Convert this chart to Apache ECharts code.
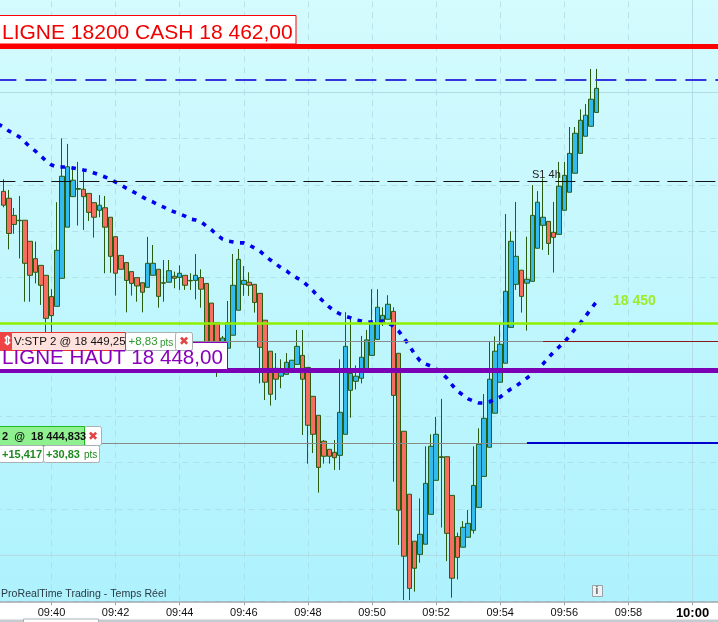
<!DOCTYPE html>
<html><head><meta charset="utf-8">
<style>html,body{margin:0;padding:0;background:#fff;overflow:hidden}#c{width:718px;height:622px}</style>
<script src="https://cdn.jsdelivr.net/npm/echarts@6/dist/echarts.min.js"></script>
</head><body><div id="c"></div>
<script>
// Prices are stored in points above this base
const priceBase = 18440;
const openPts = [15.72,15.42,14.68,14.47,14.47,13.56,12.81,12.52,12.09,11.17,10.75,11.96,14.17,15.49,15.84,15.81,15.63,15.23,14.90,15.01,14.60,13.76,12.95,12.64,12.25,11.99,11.77,11.57,12.09,12.35,11.77,11.79,12.05,12.00,12.09,11.87,11.87,11.99,11.74,10.89,10.04,8.65,8.94,9.50,10.58,11.70,11.79,11.70,11.31,10.15,8.81,8.07,7.73,7.81,7.93,8.24,8.63,8.11,6.86,6.04,4.92,4.57,4.44,4.31,5.22,7.12,7.51,7.64,8.00,8.63,9.32,10.02,10.19,10.53,8.72,5.35,2.63,0.60,0.03,0.47,1.76,3.23,4.25,4.25,2.58,0.80,0.34,0.77,1.07,2.06,3.40,4.66,6.13,7.47,8.29,9.84,11.70,12.31,11.75,11.83,13.26,14.25,14.42,13.95,13.86,14.90,15.68,16.50,17.36,18.10,18.53,19.13];
const closePts = [15.12,13.90,14.29,14.45,12.61,12.09,12.22,11.66,10.23,10.35,13.17,16.37,16.78,16.20,15.81,15.49,14.81,14.60,15.12,14.17,12.91,12.18,12.35,11.87,11.74,11.63,11.36,12.61,12.61,11.18,11.75,12.29,11.96,12.18,11.66,11.85,12.09,11.49,9.08,9.00,8.65,9.38,10.04,11.66,12.78,11.87,11.66,10.92,8.98,7.47,6.95,7.60,7.93,8.33,8.42,9.02,7.60,5.61,5.22,3.79,4.27,4.27,4.21,6.17,9.02,7.85,7.73,8.55,9.30,10.02,10.71,10.36,10.84,6.90,1.94,-0.05,-1.44,-0.57,0.90,3.10,4.70,5.22,4.22,0.94,-1.00,-0.10,1.20,1.37,3.01,4.79,5.91,7.60,8.81,9.11,11.40,13.56,12.91,11.18,11.92,14.68,15.25,14.60,13.47,13.73,15.94,16.41,17.36,18.23,18.79,19.01,19.70,20.17];
const highPts = [16.24,15.78,15.00,15.52,14.47,13.56,13.55,12.52,12.09,11.49,15.25,18.01,17.77,16.79,16.99,16.57,15.63,15.23,15.56,15.52,14.60,13.76,12.95,12.64,12.25,11.99,11.77,13.75,13.40,12.35,12.75,12.75,12.25,12.52,12.09,12.18,13.01,12.35,11.74,10.89,10.04,9.47,10.98,13.01,13.23,12.49,12.22,11.70,11.31,10.15,8.81,8.73,8.46,8.73,8.42,9.73,9.73,8.11,6.86,6.04,4.97,4.57,4.97,8.46,10.50,10.23,8.20,9.47,9.73,11.49,11.49,10.71,11.23,10.71,8.72,5.35,2.63,0.60,2.45,4.70,5.22,5.97,6.75,4.25,2.58,0.97,1.47,1.95,4.70,5.48,6.96,9.22,9.45,10.02,14.74,13.99,15.26,12.31,13.76,15.99,15.73,16.28,14.42,15.26,16.99,16.99,18.50,18.50,19.26,19.49,21.01,21.01];
const lowPts = [15.03,13.21,13.88,12.82,10.95,10.95,11.74,10.81,9.15,9.15,10.75,11.96,14.17,15.49,14.24,14.05,14.44,13.72,14.60,12.18,12.20,11.21,12.35,10.49,11.21,10.95,10.49,11.57,12.09,10.69,10.95,11.79,11.53,11.46,11.46,11.46,11.05,10.69,8.86,8.70,7.70,8.40,8.94,9.50,10.58,11.20,11.20,10.48,7.42,6.70,6.46,6.70,7.21,7.81,7.93,8.24,5.19,3.95,4.41,2.70,3.95,3.95,3.68,3.68,5.22,5.94,7.16,7.42,8.00,8.63,9.32,9.90,10.19,3.17,0.44,-1.94,-1.94,-1.58,-0.33,0.47,1.76,3.23,1.19,-0.26,-1.84,-1.05,0.34,0.77,0.93,2.06,3.40,4.66,6.13,7.47,8.29,9.84,11.46,10.48,9.70,11.83,13.26,13.19,12.97,12.21,13.86,14.90,15.68,16.50,17.36,18.10,18.53,19.13];
const movingAvgPts = [18.63,18.50,18.33,18.20,18.07,17.85,17.64,17.46,17.25,17.03,16.86,16.77,16.77,16.77,16.73,16.69,16.64,16.60,16.51,16.43,16.34,16.25,16.12,15.99,15.86,15.74,15.61,15.48,15.35,15.26,15.13,15.04,14.91,14.83,14.74,14.65,14.52,14.48,14.40,14.22,14.05,13.83,13.66,13.57,13.53,13.49,13.49,13.40,13.27,13.14,12.93,12.75,12.58,12.41,12.28,12.10,11.97,11.85,11.63,11.41,11.15,10.94,10.72,10.55,10.42,10.33,10.25,10.16,10.12,10.07,10.07,10.07,10.12,10.03,9.90,9.68,9.38,9.04,8.69,8.39,8.26,8.17,8.04,7.87,7.65,7.35,7.09,6.92,6.75,6.66,6.57,6.57,6.62,6.75,6.83,7.01,7.18,7.31,7.48,7.65,7.83,8.04,8.26,8.52,8.78,8.99,9.21,9.47,9.77,10.03,10.33,10.64,10.94];
const tickLabels = ['09:40','09:42','09:44','09:46','09:48','09:50','09:52','09:54','09:56','09:58','10:00'];
const levelRed = 18462, levelBlueDash = 18460.53, levelS1 = 18456.15, levelGreen = 18450, levelPurple = 18448;
const levelStop = 18449.25, levelEntry = 18444.833;
const solidGrid = [18460, 18450, 18440];

// Categories: one bar every 10 seconds, starting 09:38:20
const categories = [];
for (let i = 0, t = 9*3600 + 38*60 + 20; i < 136; i++, t += 10) {
  const p = n => String(n).padStart(2,'0');
  categories.push(p(Math.floor(t/3600)) + ':' + p(Math.floor(t/60)%60) + ':' + p(t%60));
}
const isTick = v => v.endsWith(':00') && tickLabels.includes(v.slice(0,5));
const candleData = [['-','-','-','-']].concat(openPts.map((o,i) =>
  [o + priceBase, closePts[i] + priceBase, lowPts[i] + priceBase, highPts[i] + priceBase]));
const maData = movingAvgPts.map(v => +(v + priceBase).toFixed(2));

const lv = (val, color, width, dash) => ({ yAxis: val, lineStyle: { color, width, type: dash || 'solid' } });
const seg = (from, to, val, color, width) => [
  { coord: [from, val], lineStyle: { color, width, type: 'solid' } }, { coord: [to, val] }];

const F = '"Liberation Sans",Arial,sans-serif';
const rect = (x,y,w,h,fill,stroke,r) => ({ type:'rect', z:100, shape:{x,y,width:w,height:h,r:r||0}, style:{fill,stroke:stroke||null,lineWidth:1} });
const text = (x,y,t,font,fill) => ({ type:'text', z:101, x, y, style:{ text:t, font:font+' '+F, fill, verticalAlign:'middle', textVerticalAlign:'middle' } });

const graphics = [
  // top label
  rect(-1,15.5,297,28.5,'#fff','#ff0000'),
  text(2,33,'LIGNE 18200 CASH 18 462,00','21px','#f00000'),
  // LIGNE HAUT label
  rect(-1,342.5,228.5,27,'#fff','#8a00b8'),
  text(2,358,'LIGNE HAUT 18 448,00','20.6px','#8800bb'),
  // stop order tag
  rect(125.5,332.5,67,18,'#fff','#a8b0b4',2),
  rect(175.5,332.5,17,18,'#fff','#a8b0b4',2),
  rect(0.5,332.5,125,18,'#ffe2de','#ee3333'),
  rect(0,332,12,19,'#ee4444'),
  text(2,341.5,'⇕','bold 13px','#ffffff'),
  text(14,342,'V:STP 2 @ 18 449,25','11.5px','#111111'),
  text(128.5,342,'+8,83','11.5px','#2e9a2e'),
  text(160,343,'pts','10px','#2e9a2e'),
  text(179,342,'✖','12px','#e04444'),
  // position tag
  rect(84.5,426.5,17,19,'#fff','#a8b0b4',2),
  rect(-1,426.5,85.5,19,'#8ef08e','#22bb22'),
  text(2,436.5,'2  @  18 444,833','bold 11px','#111111'),
  text(88,436.5,'✖','12px','#e04444'),
  rect(-1,445.5,44.5,17,'#fff','#a8b0b4',2),
  rect(43.5,445.5,56,17,'#fff','#a8b0b4',2),
  text(2,454.5,'+15,417','bold 11px','#1f8a1f'),
  text(46,454.5,'+30,83','bold 11px','#1f8a1f'),
  text(84,455.5,'pts','10px','#1f8a1f'),
  // free labels
  text(613,301.5,'18 450','bold 14px','#9cec28'),
  text(532,174.5,'S1 4h','11px','#222222'),
  text(1,594,'ProRealTime Trading - Temps Réel','10.6px','#2a3a44'),
  rect(592.5,585.5,10,11,'#eef2f2','#9aa4a8'),
  text(595.5,591,'i','bold 10px','#556066'),
  // bottom strip
  rect(0,619.5,718,3,'#c4ccd0'),
  rect(23.5,619,75,4,'#ffffff','#a8b0b4')
];

const chart = echarts.init(document.getElementById('c'), null, { renderer: 'canvas' });
chart.setOption({
  animation: false,
  backgroundColor: '#ffffff',
  grid: {
    left: -4.6, top: -0.28, width: 726.5, height: 601.64, show: true, borderWidth: 0, outerBoundsMode: 'none',
    backgroundColor: new echarts.graphic.LinearGradient(0,0,0,1,[{offset:0,color:'#d4fbfe'},{offset:1,color:'#aef2fd'}])
  },
  xAxis: {
    type: 'category', data: categories, boundaryGap: true,
    axisLine: { lineStyle: { color: '#9aa8b0', width: 1.5 } },
    axisTick: { show: true, alignWithLabel: true, length: 4, interval: (i, v) => isTick(v), lineStyle: { color: '#9aa8b0' } },
    axisLabel: {
      show: true, interval: (i, v) => isTick(v), margin: 6, fontFamily: 'Liberation Sans', fontSize: 11, color: '#111',
      formatter: v => v.startsWith('10:00') ? '{b|' + v.slice(0,5) + '}' : v.slice(0,5),
      rich: { b: { fontFamily: 'Liberation Sans', fontSize: 13, fontWeight: 'bold', color: '#000' } }
    },
    splitLine: { show: false }
  },
  yAxis: {
    type: 'value', min: 18438, max: 18464, interval: 2, scale: true,
    axisLine: { show: false }, axisTick: { show: false }, axisLabel: { show: false },
    splitLine: { show: true, lineStyle: { color: 'rgba(170,215,225,0.7)', type: [6,5], width: 1 } }
  },
  series: [
    {
      name: 'grille', type: 'line', data: [], z: 1, silent: true,
      markLine: {
        silent: true, symbol: 'none', label: { show: false }, z: 1, animation: false,
        data: tickLabels.map(t => ({
          xAxis: t + ':00',
          lineStyle: t === '10:00' ? { color: '#b4dde6', width: 1, type: 'solid' } : { color: 'rgba(170,215,225,0.7)', width: 1, type: [6,5] }
        })).concat(solidGrid.map(v => ({ yAxis: v, lineStyle: { color: '#b4dae2', width: 1, type: 'solid' } })))
      }
    },
    {
      name: 'cours', type: 'candlestick', data: candleData, z: 2, barWidth: 5, silent: true,
      itemStyle: { color: '#33bbee', color0: '#f56e60', borderColor: '#2a5c10', borderColor0: '#2a5c10', borderWidth: 1 }
    },
    {
      name: 'moyenne', type: 'line', data: maData, z: 3, silent: true, showSymbol: false, smooth: false,
      lineStyle: { color: '#0000ee', width: 3.6, type: [4.5,6.5], cap: 'butt' }
    },
    {
      name: 'niveaux', type: 'line', data: [], z: 4, silent: true,
      markLine: {
        silent: true, symbol: 'none', label: { show: false }, z: 4, animation: false, precision: 3,
        data: [
          lv(levelBlueDash, '#3636dd', 2, [21,9]),
          lv(levelS1, '#111111', 1, [20,8]),
          seg(categories[0], categories[102], levelStop, '#8a8a8a', 1),
          seg(categories[102], categories[135], levelStop, '#8a1a1a', 1),
          seg(categories[0], categories[99], levelEntry, '#8a8a8a', 1),
          seg(categories[99], categories[135], levelEntry, '#0000cc', 2),
          lv(levelGreen, '#8cf000', 2.5),
          lv(levelPurple, '#7b00b5', 5),
          lv(levelRed, '#ff0000', 5)
        ]
      }
    }
  ],
  graphic: { elements: graphics }
});
</script></body></html>
